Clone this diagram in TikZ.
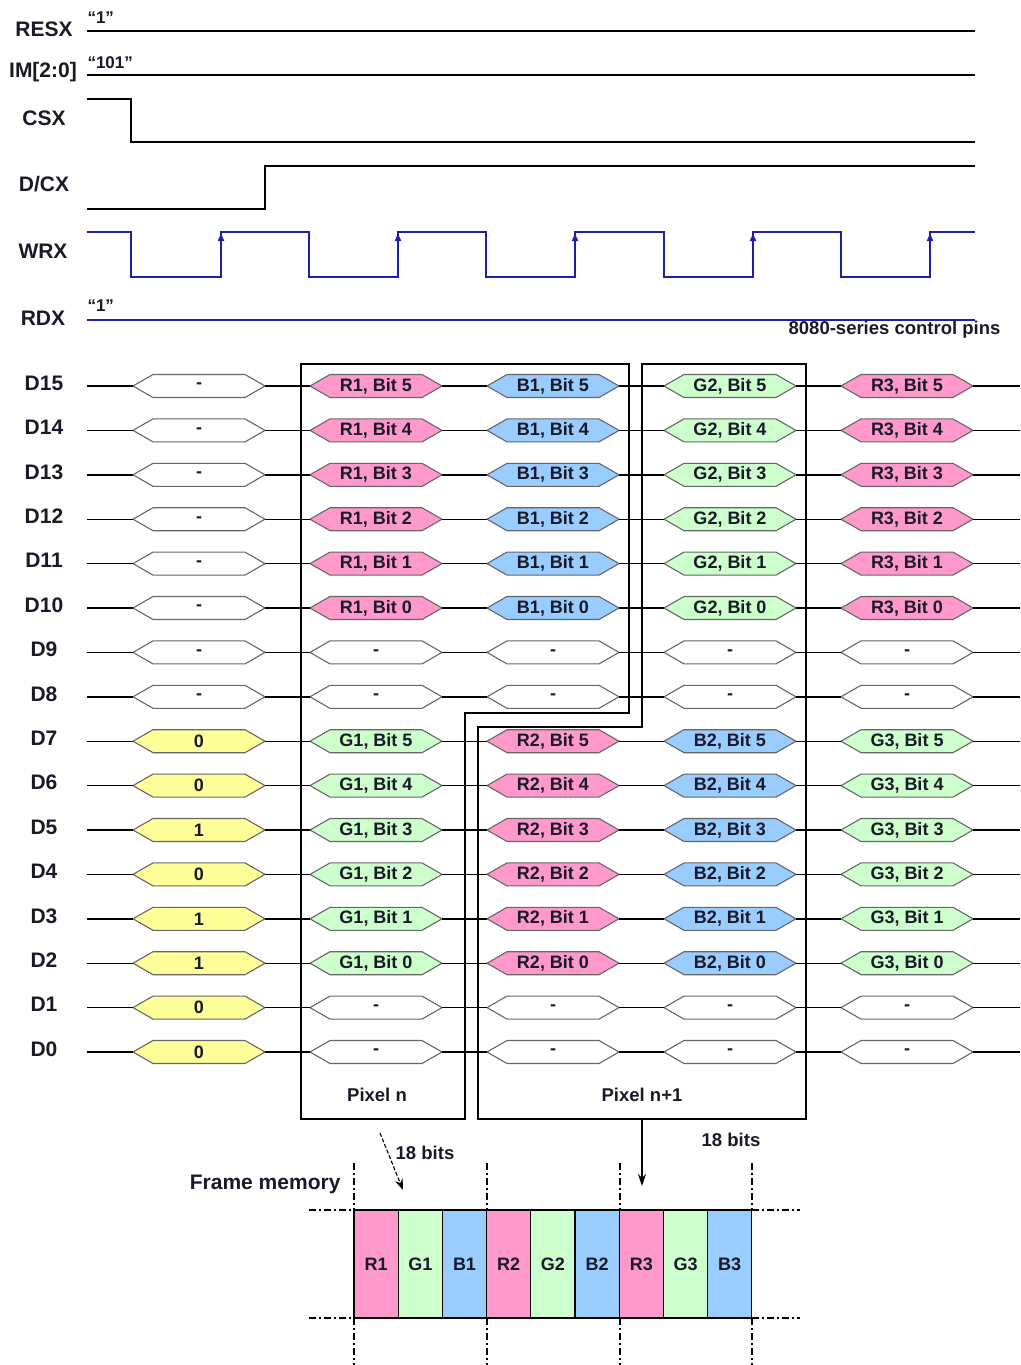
\documentclass[tikz,border=0pt]{standalone}
\usepackage{fontspec}
\setmainfont{Liberation Sans}
\usetikzlibrary{arrows.meta}
\definecolor{pinkc}{RGB}{255,153,204}
\definecolor{greenc}{RGB}{204,255,204}
\definecolor{bluec}{RGB}{153,204,255}
\definecolor{yellowc}{RGB}{255,255,153}
\definecolor{whitec}{RGB}{255,255,255}
\definecolor{sigblue}{RGB}{30,30,170}
\definecolor{txtc}{RGB}{25,25,40}
\newcommand\hexcell[5]{%
  \filldraw[fill=#4,hexline] (#2-66,#3) -- (#2-46,#3-11.5) -- (#2+46,#3-11.5) -- (#2+66,#3) -- (#2+46,#3+11.5) -- (#2-46,#3+11.5) -- cycle;
  \node[hexnode] (#1) at (#2,#3) {#5};}
\begin{document}
\begin{tikzpicture}[x=1pt,y=-1pt,
  hexline/.style={draw=black!60,line width=1.1pt},
  hexnode/.style={inner sep=0pt,minimum width=132pt,minimum height=23pt,font=\fontsize{18}{20}\selectfont\bfseries,text=txtc},
  lbl/.style={font=\fontsize{21}{23}\selectfont\bfseries,text=txtc},
  small/.style={font=\fontsize{18.5}{20}\selectfont\bfseries,text=txtc},
  quote/.style={font=\fontsize{17}{19}\selectfont\bfseries,text=txtc,anchor=west},
  sig/.style={line width=1.6pt,black},
  bsig/.style={line width=1.6pt,sigblue},
  dline/.style={line width=1.4pt,black},
  box/.style={line width=1.4pt,black},
  dd/.style={line width=1.3pt,black,dash pattern=on 7pt off 3pt on 2pt off 3pt},
  fmcell/.style={draw=black,line width=1.3pt,minimum width=44.2pt,minimum height=108pt,inner sep=0pt,font=\fontsize{18}{20}\selectfont\bfseries,text=txtc}]
\useasboundingbox (0,0) rectangle (1020,1365);
% ---- control signals ----
\node[lbl] (lRESX) at (44,29) {RESX};
\node[lbl] (lIM) at (43,72) {IM[2:0]};
\node[lbl] (lCSX) at (44,118) {CSX};
\node[lbl] (lDCX) at (44,184) {D/CX};
\node[lbl] (lWRX) at (43,251) {WRX};
\node[lbl] (lRDX) at (43,318) {RDX};
\node[quote] (qa) at (84,18) {“1”};
\node[quote] (qb) at (84,63) {“101”};
\node[quote] (qc) at (84,306) {“1”};
\draw[sig] (87,31) -- (975,31);
\draw[sig] (87,75) -- (975,75);
\draw[sig] (87,99) -- (131,99) -- (131,142) -- (975,142);
\draw[sig] (87,209) -- (265,209) -- (265,166) -- (975,166);
\draw[bsig] (87,232) -- (131,232) -- (131,277) -- (221,277) -- (221,232) -- (309,232) -- (309,277) -- (398,277) -- (398,232) -- (486,232) -- (486,277) -- (575,277) -- (575,232) -- (664,232) -- (664,277) -- (753,277) -- (753,232) -- (841,232) -- (841,277) -- (930,277) -- (930,232) -- (975,232);
\foreach \ax in {221,398,575,753,930}
  \draw[sigblue,line width=1.6pt,-{Latex[length=9pt,width=7pt]}] (\ax,250) -- (\ax,232);
\draw[bsig] (87,320) -- (975,320);
\node[small,anchor=east] (ctl) at (1004,330) {8080-series control pins};
% ---- data rows ----
\foreach \r/\n in {0/15,1/14,2/13,3/12,4/11,5/10,6/9,7/8,8/7,9/6,10/5,11/4,12/3,13/2,14/1,15/0}{
  \pgfmathsetmacro\yy{386+\r*44.4}
  \node[lbl] (D\n) at (44,\yy-3) {D\n};
  \coordinate (s\r) at (87,\yy);
  \coordinate (e\r) at (1020,\yy);
}
% column 1
\foreach \r in {0,...,7}{
  \pgfmathsetmacro\yy{386+\r*44.4}
  \hexcell{h1-\r}{199}{\yy}{whitec}{-}
}
\foreach \r/\v in {8/0,9/0,10/1,11/0,12/1,13/1,14/0,15/0}{
  \pgfmathsetmacro\yy{386+\r*44.4}
  \hexcell{h1-\r}{199}{\yy}{yellowc}{\v}
}
% columns 2-5
\foreach \c/\x/\uc/\un/\lc/\ln in {2/376/pinkc/R1/greenc/G1,3/553/bluec/B1/pinkc/R2,4/730/greenc/G2/bluec/B2,5/907/pinkc/R3/greenc/G3}{
  \foreach \r in {0,...,15}{
    \pgfmathsetmacro\yy{386+\r*44.4}
    \pgfmathtruncatemacro\bu{5-\r}
    \pgfmathtruncatemacro\bl{13-\r}
    \ifnum\r<6
      \hexcell{h\c-\r}{\x}{\yy}{\uc}{\un, Bit \bu}
    \else\ifnum\r<8
      \hexcell{h\c-\r}{\x}{\yy}{whitec}{-}
    \else\ifnum\r<14
      \hexcell{h\c-\r}{\x}{\yy}{\lc}{\ln, Bit \bl}
    \else
      \hexcell{h\c-\r}{\x}{\yy}{whitec}{-}
    \fi\fi\fi
  }
}
\foreach \r in {0,...,15}{
  \draw[dline] (s\r) -- (h1-\r.west);
  \draw[dline] (h1-\r.east) -- (h2-\r.west);
  \draw[dline] (h2-\r.east) -- (h3-\r.west);
  \draw[dline] (h3-\r.east) -- (h4-\r.west);
  \draw[dline] (h4-\r.east) -- (h5-\r.west);
  \draw[dline] (h5-\r.east) -- (e\r);
}
% ---- pixel boxes ----
\draw[box] (301,364) -- (629,364) -- (629,713) -- (465,713) -- (465,1119) -- (301,1119) -- cycle;
\draw[box] (642,364) -- (806,364) -- (806,1119) -- (478,1119) -- (478,727) -- (642,727) -- cycle;
\node[small] (pn) at (377,1095) {Pixel n};
\node[small] (pn1) at (642,1095) {Pixel n+1};
% ---- arrows to frame memory ----
\coordinate (a1s) at (380,1133);
\coordinate (a1e) at (403,1190);
\coordinate (a2s) at (642,1120);
\coordinate (a2e) at (642,1186);
\draw[line width=1.1pt,dash pattern=on 4pt off 2pt,-{Stealth[length=11pt,width=8pt]}] (a1s) -- (a1e);
\draw[line width=1.3pt,-{Stealth[length=12pt,width=8pt]}] (a2s) -- (a2e);
\node[small] (b1) at (425,1153) {18 bits};
\node[small] (b2) at (731,1140) {18 bits};
\node[lbl,anchor=east] (fm) at (344,1184) {Frame memory};
% ---- frame memory ----
\foreach \i/\t/\col in {1/R1/pinkc,2/G1/greenc,3/B1/bluec,4/R2/pinkc,5/G2/greenc,6/B2/bluec,7/R3/pinkc,8/G3/greenc,9/B3/bluec}{
  \node[fmcell,fill=\col] (fm\i) at ({354+44.2*(\i-0.5)},1264) {\t};
}
\foreach \vx in {354,487,620,752}{
  \draw[dd] (\vx,1163) -- (\vx,1210);
  \draw[dd] (\vx,1318) -- (\vx,1365);
}
\draw[dd] (309,1210) -- (354,1210);
\draw[dd] (309,1318) -- (354,1318);
\draw[dd] (752,1210) -- (800,1210);
\draw[dd] (752,1318) -- (800,1318);
\end{tikzpicture}
\end{document}
